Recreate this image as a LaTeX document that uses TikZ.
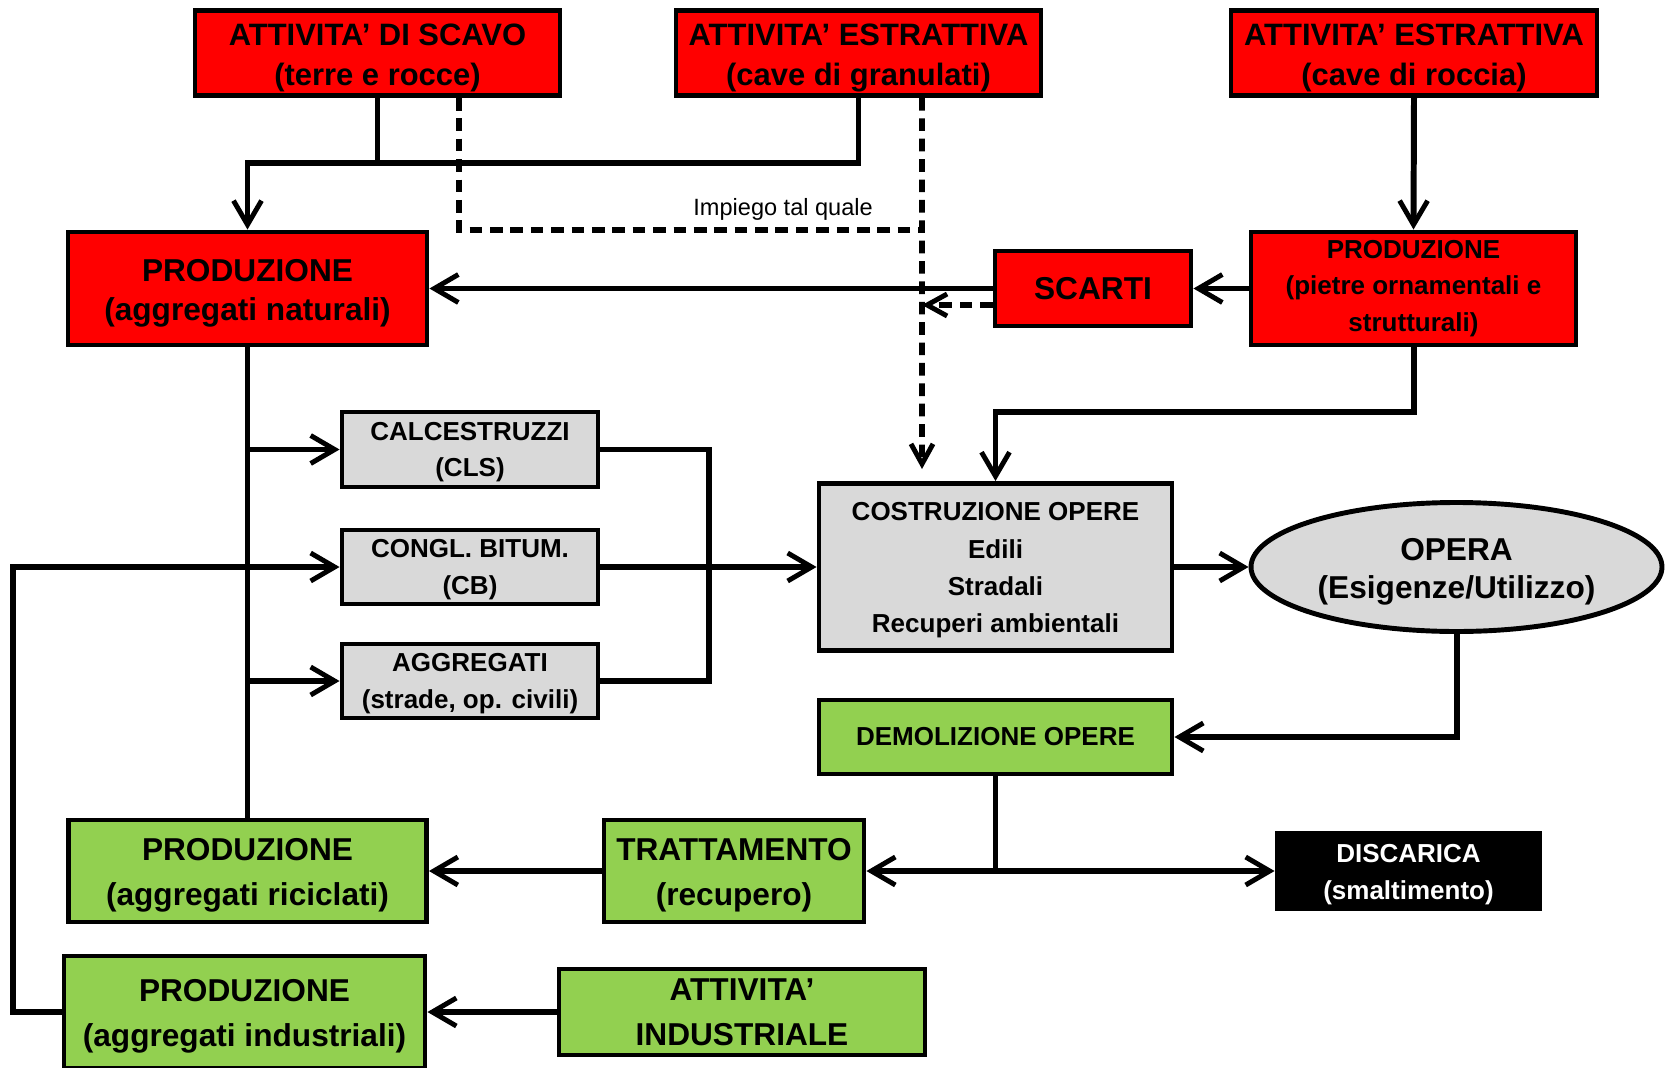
\documentclass[tikz,border=0pt]{standalone}
\usepackage{fontspec}
\setmainfont{Liberation Sans}
\usepackage{xcolor}
\usepackage{tikz}
\usetikzlibrary{shapes.geometric, arrows.meta}

\definecolor{boxred}{RGB}{255,0,0}
\definecolor{boxgreen}{RGB}{146,208,80}
\definecolor{boxgray}{RGB}{217,217,217}
% strut on the first line, to push the text a little down in its box
\newcommand{\toplift}[1][1em]{\rule{0pt}{#1}}

\begin{document}
\begin{tikzpicture}[
  box/.style={draw, line width=1.4pt, rectangle, align=center, inner sep=1pt},
  redbox/.style={box, fill=boxred},
  graybox/.style={box, fill=boxgray},
  greenbox/.style={box, fill=boxgreen},
  blackbox/.style={box, fill=black, text=white},
  topText/.style={font=\bfseries\fontsize{8.8}{11.4}\selectfont},
  bigText/.style={font=\bfseries\fontsize{9}{10.9}\selectfont},
  tallText/.style={font=\bfseries\fontsize{9}{12.9}\selectfont},
  smallText/.style={font=\bfseries\fontsize{7.4}{10.3}\selectfont},
  link/.style={line width=1.7pt},
  arrow/.style={link, -{Straight Barb[length=2.4mm, width=2.8mm, line width=1.4pt]}},
  dashLink/.style={line width=1.6pt, dash pattern=on 3.6pt off 2.2pt},
  dashArrow/.style={dashLink, -{Straight Barb[length=2mm, width=2.2mm, line width=1.4pt]}},
  edgeText/.style={font=\fontsize{6.7}{8}\selectfont, inner sep=2pt},
]
  \useasboundingbox (0,0) rectangle (16.71,-10.68);
  \clip (0,0) rectangle (16.71,-10.68);

% sources
  \node[redbox, topText, minimum width=3.65cm, minimum height=0.85cm] (scavo) at (3.775,-0.53) {\toplift ATTIVITA’ DI SCAVO\\(terre e rocce)};
  \node[redbox, topText, minimum width=3.65cm, minimum height=0.85cm] (granulati) at (8.585,-0.53) {\toplift ATTIVITA’ ESTRATTIVA\\(cave di granulati)};
  \node[redbox, topText, minimum width=3.66cm, minimum height=0.85cm] (roccia) at (14.14,-0.53) {\toplift ATTIVITA’ ESTRATTIVA\\(cave di roccia)};

% primary production
  \node[redbox, bigText, minimum width=3.59cm, minimum height=1.13cm] (natur) at (2.475,-2.885) {\toplift PRODUZIONE\\(aggregati naturali)};
  \node[redbox, bigText, minimum width=1.96cm, minimum height=0.75cm] (scarti) at (10.93,-2.885) {SCARTI};
  \node[redbox, smallText, minimum width=3.25cm, minimum height=1.13cm] (pietre) at (14.135,-2.885) {PRODUZIONE\\(pietre ornamentali e\\strutturali)};

% products
  \node[graybox, smallText, minimum width=2.56cm, minimum height=0.75cm] (cls) at (4.70,-4.495) {\toplift[0.9em]CALCESTRUZZI\\(CLS)};
  \node[graybox, smallText, minimum width=2.56cm, minimum height=0.74cm] (cb) at (4.70,-5.67) {\toplift[0.9em]CONGL. BITUM.\\(CB)};
  \node[graybox, smallText, minimum width=2.56cm, minimum height=0.74cm] (aggr) at (4.70,-6.81) {\toplift[0.9em]AGGREGATI\\(strade, op. civili)};

% works
  \node[graybox, font=\bfseries\fontsize{7.4}{10.6}\selectfont, minimum width=3.53cm, minimum height=1.67cm] (costr) at (9.955,-5.67) {\toplift[0.95em]COSTRUZIONE OPERE\\Edili\\Stradali\\Recuperi ambientali};
  \node[ellipse, draw, line width=1.4pt, fill=boxgray, bigText, align=center, inner sep=0pt, minimum width=4.11cm, minimum height=1.29cm] (opera) at (14.565,-5.67) {\toplift OPERA\\(Esigenze/Utilizzo)};
  \node[greenbox, smallText, minimum width=3.53cm, minimum height=0.74cm] (demol) at (9.955,-7.37) {DEMOLIZIONE OPERE};

% recycling and disposal
  \node[greenbox, tallText, minimum width=3.58cm, minimum height=1.02cm] (ricic) at (2.475,-8.71) {\toplift[0.95em]PRODUZIONE\\(aggregati riciclati)};
  \node[greenbox, tallText, minimum width=2.60cm, minimum height=1.02cm] (tratt) at (7.34,-8.71) {\toplift[0.95em]TRATTAMENTO\\(recupero)};
  \node[blackbox, font=\bfseries\fontsize{7.4}{10.5}\selectfont, minimum width=2.63cm, minimum height=0.76cm] (disc) at (14.085,-8.71) {\toplift[0.95em]DISCARICA\\(smaltimento)};
  \node[greenbox, tallText, minimum width=3.61cm, minimum height=1.12cm] (indus) at (2.445,-10.12) {\toplift[0.95em]PRODUZIONE\\(aggregati industriali)};
  \node[greenbox, tallText, minimum width=3.66cm, minimum height=0.86cm] (indatt) at (7.42,-10.12) {ATTIVITA’\\INDUSTRIALE};

% junctions
  \coordinate (joinA) at (2.475,-1.63);
  \coordinate (joinB) at (9.955,-4.12);
  \coordinate (joinC) at (7.09,-5.67);
  \coordinate (dashCross) at (9.22,-2.30);
  \coordinate (dashEnd) at (9.22,-4.69);
  \coordinate (loopL) at (0.13,-10.12);

% edges
  \draw[link] (scavo.south) -- (scavo.south |- joinA);
  \draw[arrow] (granulati.south) |- (joinA) -- (natur.north);
  \draw[dashLink] ([xshift=8.15mm]scavo.south) |- (dashCross) node[edgeText, pos=0.85, above] {Impiego tal quale};
  \draw[dashArrow] ([xshift=6.35mm]granulati.south) -- (dashEnd);
  \draw[arrow] (roccia.south) -- (pietre.north);
  \draw[arrow] (pietre.west) -- (scarti.east);
  \draw[arrow] (scarti.west) -- (natur.east);
  \draw[dashArrow] ([yshift=-1.65mm]scarti.west) -- ([yshift=-1.65mm]scarti.west -| dashEnd);
  \draw[arrow] (pietre.south) |- (joinB) -- (costr.north);

  \draw[link] (natur.south) -- (ricic.north);
  \draw[arrow] (natur.south |- cls.west) -- (cls.west);
  \draw[arrow] (natur.south |- aggr.west) -- (aggr.west);
  \draw[arrow] (indus.west) -- (loopL) |- (cb.west);
  \draw[link] (cls.east) -| (joinC) |- (aggr.east);
  \draw[arrow] (cb.east) -- (costr.west);
  \draw[arrow] (costr.east) -- (opera.west);
  \draw[arrow] (opera.south) |- (demol.east);
  \draw[arrow] (demol.south) |- (tratt.east);
  \draw[arrow] (demol.south) |- (disc.west);
  \draw[arrow] (tratt.west) -- (ricic.east);
  \draw[arrow] (indatt.west) -- (indus.east);
\end{tikzpicture}
\end{document}
